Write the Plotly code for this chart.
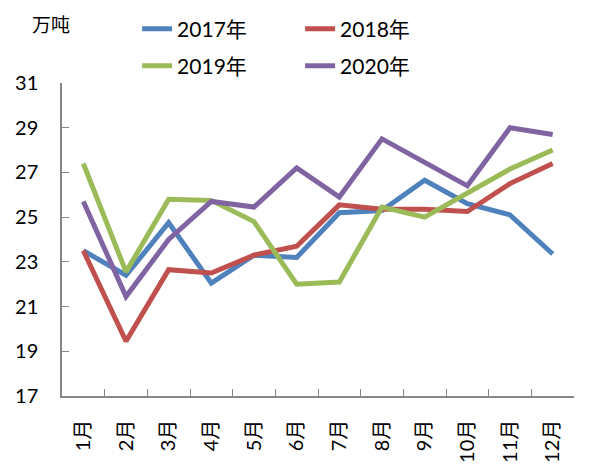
import plotly.graph_objects as go

months = ["1月", "2月", "3月", "4月", "5月", "6月", "7月", "8月", "9月", "10月", "11月", "12月"]
y2017 = [23.5, 22.4, 24.75, 22.05, 23.3, 23.2, 25.2, 25.3, 26.65, 25.6, 25.1, 23.35]
y2018 = [23.5, 19.45, 22.65, 22.5, 23.3, 23.7, 25.55, 25.35, 25.35, 25.25, 26.5, 27.4]
y2019 = [27.4, 22.55, 25.8, 25.75, 24.8, 22.0, 22.1, 25.45, 25.0, 26.1, 27.15, 28.0]
y2020 = [25.7, 21.45, 24.0, 25.7, 25.45, 27.2, 25.9, 28.5, 27.45, 26.4, 29.0, 28.7]

series = [
    ("2017年", y2017, "#4F81BD", "legend"),
    ("2018年", y2018, "#C0504D", "legend"),
    ("2019年", y2019, "#9BBB59", "legend2"),
    ("2020年", y2020, "#8064A2", "legend2"),
]

font_family = "Lato, 'Noto Sans CJK SC', sans-serif"

fig = go.Figure()
for name, vals, color, lg in series:
    fig.add_trace(go.Scatter(
        x=months, y=vals, mode="lines", name=name,
        line=dict(color=color, width=5),
        legend=lg,
    ))

# page body has an 8px margin, so the figure is a bit smaller than the window
legend_style = dict(
    orientation="h", xref="container", yref="container",
    xanchor="left", yanchor="middle", entrywidth=118,
    font=dict(size=21, family=font_family, color="#000000"),
    bgcolor="rgba(0,0,0,0)",
)

fig.update_layout(
    width=595, height=457,
    margin=dict(l=54, r=29, t=75, b=69, autoexpand=False),
    plot_bgcolor="white", paper_bgcolor="white",
    font=dict(family=font_family, size=20, color="#000000"),
    showlegend=True,
    legend=dict(x=0.217, y=0.954, **legend_style),
    legend2=dict(x=0.217, y=0.873, **legend_style),
    xaxis=dict(
        range=[-0.5, 11.5],
        showline=True, linecolor="#868686", linewidth=1.5,
        ticks="inside", ticklen=7, tickcolor="#868686", tickson="boundaries",
        tickangle=-90, showgrid=False, ticklabelstandoff=14,
        tickfont=dict(size=20),
    ),
    yaxis=dict(
        range=[17, 31], dtick=2, tick0=17,
        showline=True, linecolor="#868686", linewidth=1.5,
        ticks="inside", ticklen=7, tickcolor="#868686",
        showgrid=False, zeroline=False, ticklabelstandoff=18,
        tickfont=dict(size=20),
    ),
    annotations=[dict(
        text="万吨", xref="paper", yref="paper", x=-0.022, y=1.19,
        xanchor="center", yanchor="middle", showarrow=False,
        font=dict(size=19, family="'Noto Sans CJK SC', sans-serif"),
    )],
)

fig.write_html("out.html")
